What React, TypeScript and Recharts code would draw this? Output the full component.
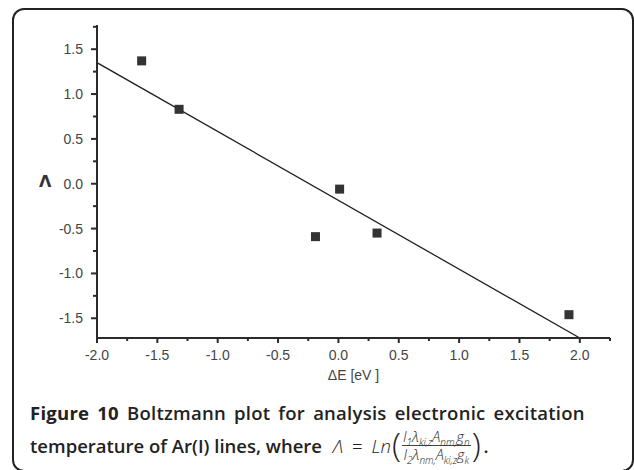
import React from 'react';
import { ComposedChart, Scatter, Line, XAxis, YAxis } from 'recharts';

// Boltzmann plot data
const energyDiff = [-1.63, -1.32, -0.19, 0.01, 0.32, 1.91];
const lambdaValue = [1.37, 0.83, -0.59, -0.06, -0.55, -1.46];

// fitted line
const fitEnergy = [-2.0, 2.0];
const fitLambda = [1.35, -1.72];

const xMajorTicks = [-2.0, -1.5, -1.0, -0.5, 0.0, 0.5, 1.0, 1.5, 2.0];
const xMinorTicks = [-1.75, -1.25, -0.75, -0.25, 0.25, 0.75, 1.25, 1.75, 2.25];
const yMajorTicks = [-1.5, -1.0, -0.5, 0.0, 0.5, 1.0, 1.5];
const yMinorTicks = [-1.25, -0.75, -0.25, 0.25, 0.75, 1.25, 1.75];

const points = energyDiff.map((e, i) => ({ e, lambda: lambdaValue[i] }));
const fit = fitEnergy.map((e, i) => ({ e, lambda: fitLambda[i] }));

const AXIS_COLOR = '#2b2b2b';
const TICK_FONT = '"Liberation Sans", Arial, sans-serif';

const isMajor = (v: number, majors: number[]) => majors.some((m) => Math.abs(m - v) < 1e-6);

const XTick = ({ x, y, payload }: any) => {
  const major = isMajor(payload.value, xMajorTicks);
  return (
    <g>
      <line x1={x} y1={y} x2={x} y2={y + (major ? 5 : 3)} stroke={AXIS_COLOR} strokeWidth={2} />
      {major && (
        <text x={x} y={y + 22} textAnchor="middle" fill="#444" fontSize={14} fontFamily={TICK_FONT}>
          {payload.value.toFixed(1)}
        </text>
      )}
    </g>
  );
};

const YTick = ({ x, y, payload }: any) => {
  const major = isMajor(payload.value, yMajorTicks);
  return (
    <g>
      <line x1={x} y1={y} x2={x - (major ? 6 : 4)} y2={y} stroke={AXIS_COLOR} strokeWidth={2} />
      {major && (
        <text x={x - 14} y={y + 5} textAnchor="end" fill="#444" fontSize={14} fontFamily={TICK_FONT}>
          {payload.value.toFixed(1)}
        </text>
      )}
    </g>
  );
};

const SquareDot = ({ cx, cy }: any) => (
  <rect x={cx - 4.5} y={cy - 4.5} width={9} height={9} fill="#333" />
);

const sub = { fontSize: 10, verticalAlign: 'sub' as const, lineHeight: 0 };
const paren = {
  fontStyle: 'normal' as const,
  fontWeight: 200,
  fontSize: 33,
  lineHeight: 1.5,
  display: 'inline-block',
  margin: '0 1px',
};

export default function App() {
  return (
    <div
      style={{
        position: 'absolute',
        left: 0,
        top: 0,
        width: 634,
        height: 470,
        background: '#fff',
        overflow: 'hidden',
      }}
    >
      <div
        style={{
          position: 'absolute',
          left: 12,
          top: 8,
          width: 622,
          height: 464,
          boxSizing: 'border-box',
          border: '2px solid #222',
          borderRadius: 12,
        }}
      />
      <div style={{ position: 'absolute', left: 0, top: 0 }}>
        <ComposedChart width={634} height={400} margin={{ top: 25, right: 24, left: 37, bottom: 32 }}>
          <XAxis
            type="number"
            dataKey="e"
            domain={[-2, 2.25]}
            ticks={[...xMajorTicks, ...xMinorTicks].sort((a, b) => a - b)}
            interval={0}
            height={30}
            tickSize={0}
            tickMargin={0}
            tick={<XTick />}
            axisLine={{ stroke: AXIS_COLOR, strokeWidth: 2 }}
            allowDataOverflow
            label={{
              value: 'ΔE [eV ]',
              position: 'bottom',
              offset: 2,
              fill: '#444',
              fontSize: 14,
              fontFamily: TICK_FONT,
            }}
          />
          <YAxis
            type="number"
            dataKey="lambda"
            domain={[-1.72, 1.77]}
            ticks={[...yMajorTicks, ...yMinorTicks].sort((a, b) => a - b)}
            interval={0}
            width={60}
            tickSize={0}
            tickMargin={0}
            tick={<YTick />}
            axisLine={{ stroke: AXIS_COLOR, strokeWidth: 2 }}
            allowDataOverflow
            label={{
              value: 'Λ',
              position: 'insideLeft',
              offset: 2,
              fill: '#333',
              fontSize: 16,
              fontWeight: 'bold',
              fontFamily: '"DejaVu Sans", sans-serif',
            }}
          />
          <Line
            data={fit}
            dataKey="lambda"
            type="linear"
            stroke="#222"
            strokeWidth={1.3}
            dot={false}
            activeDot={false}
            isAnimationActive={false}
          />
          <Scatter data={points} dataKey="lambda" shape={<SquareDot />} isAnimationActive={false} />
        </ComposedChart>
      </div>
      <div
        style={{
          position: 'absolute',
          left: 30,
          top: 399,
          width: 600,
          fontFamily: '"Open Sans", sans-serif',
          fontSize: 18.5,
          color: '#222',
          fontWeight: 600,
        }}
      >
        <div style={{ whiteSpace: 'nowrap', lineHeight: '28px', letterSpacing: 0.25, wordSpacing: 3 }}>
          <span style={{ fontWeight: 700 }}>Figure 10</span> Boltzmann plot for analysis electronic excitation
        </div>
        <div
          style={{
            whiteSpace: 'nowrap',
            display: 'flex',
            alignItems: 'center',
            height: 36,
          }}
        >
          <span>temperature of Ar(I) lines, where&nbsp;</span>
          <span
            style={{
              fontWeight: 300,
              fontStyle: 'italic',
              display: 'inline-flex',
              alignItems: 'center',
              marginLeft: 6,
            }}
          >
            <span>Λ</span>
            <span style={{ fontStyle: 'normal', margin: '0 9px' }}>=</span>
            <span>Ln</span>
            <span style={paren}>(</span>
            <span
              style={{
                display: 'inline-flex',
                flexDirection: 'column',
                alignItems: 'center',
                fontSize: 14.5,
                lineHeight: '17px',
              }}
            >
              <span style={{ borderBottom: '1px solid #444', padding: '0 1px' }}>
                I<span style={sub}>1</span>λ<span style={sub}>ki,z</span>A<span style={sub}>nm,</span>g
                <span style={sub}>n</span>
              </span>
              <span>
                I<span style={sub}>2</span>λ<span style={sub}>nm,</span>A<span style={sub}>ki,z</span>g
                <span style={sub}>k</span>
              </span>
            </span>
            <span style={paren}>)</span>
          </span>
          <span style={{ marginLeft: 2 }}>.</span>
        </div>
      </div>
    </div>
  );
}
